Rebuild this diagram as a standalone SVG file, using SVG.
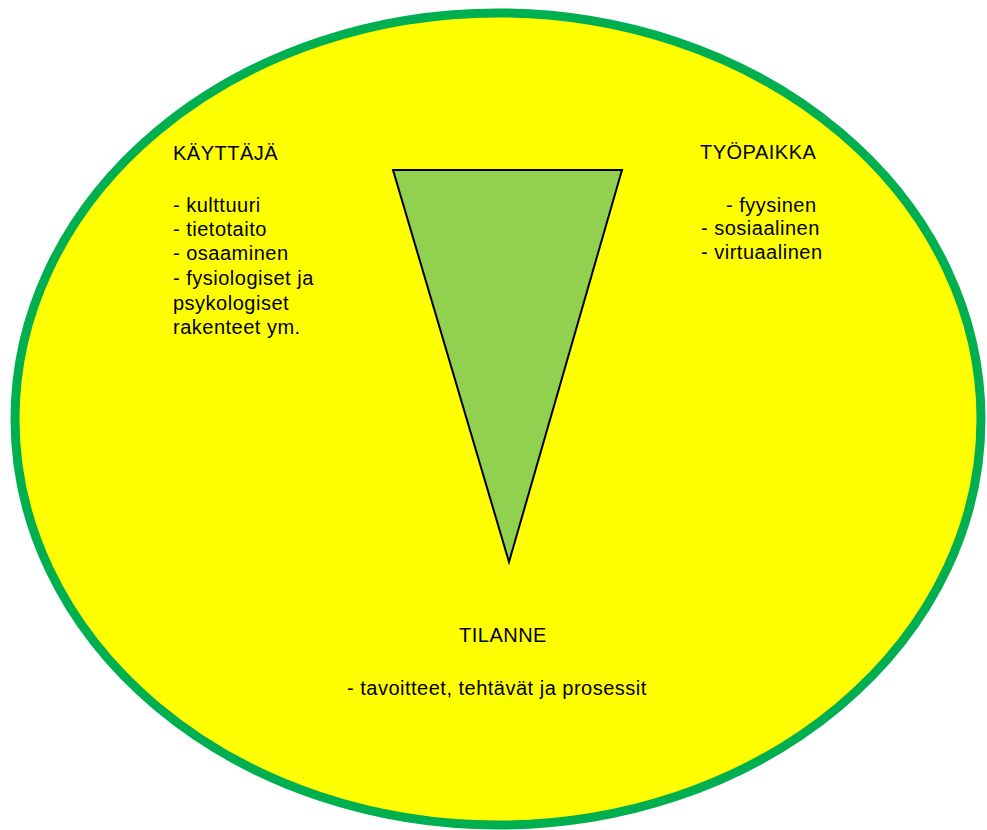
<svg xmlns="http://www.w3.org/2000/svg" width="987" height="830" viewBox="0 0 987 830">
  <style>
    .lbl { font-family: "Liberation Sans", Arial, sans-serif; font-size: 20px; letter-spacing: 0.5px; fill: #000000; }
  </style>
  <rect width="987" height="830" fill="#ffffff"/>
  <!-- outer context ellipse -->
  <g id="context">
    <ellipse cx="498" cy="419" rx="483" ry="406" fill="#ffff00" stroke="#00b050" stroke-width="9"/>
  </g>
  <!-- central inverted triangle -->
  <g id="triangle">
    <polygon points="393,170 622,170 509,562" fill="#92d050" stroke="#000000" stroke-width="2" stroke-linejoin="miter"/>
  </g>
  <!-- user block -->
  <g id="kayttaja">
    <text class="lbl" x="173" y="160">KÄYTTÄJÄ</text>
    <text class="lbl" x="173" y="212">- kulttuuri</text>
    <text class="lbl" x="173" y="236">- tietotaito</text>
    <text class="lbl" x="173" y="260">- osaaminen</text>
    <text class="lbl" x="173" y="285">- fysiologiset ja</text>
    <text class="lbl" x="173" y="310">psykologiset</text>
    <text class="lbl" x="173" y="334">rakenteet ym.</text>
  </g>
  <!-- workplace block -->
  <g id="tyopaikka">
    <text class="lbl" x="700" y="159">TYÖPAIKKA</text>
    <text class="lbl" x="726" y="212">- fyysinen</text>
    <text class="lbl" x="701" y="235">- sosiaalinen</text>
    <text class="lbl" x="701" y="259">- virtuaalinen</text>
  </g>
  <!-- situation block -->
  <g id="tilanne">
    <text class="lbl" x="459" y="642">TILANNE</text>
    <text class="lbl" x="347" y="695">- tavoitteet, tehtävät ja prosessit</text>
  </g>
</svg>
